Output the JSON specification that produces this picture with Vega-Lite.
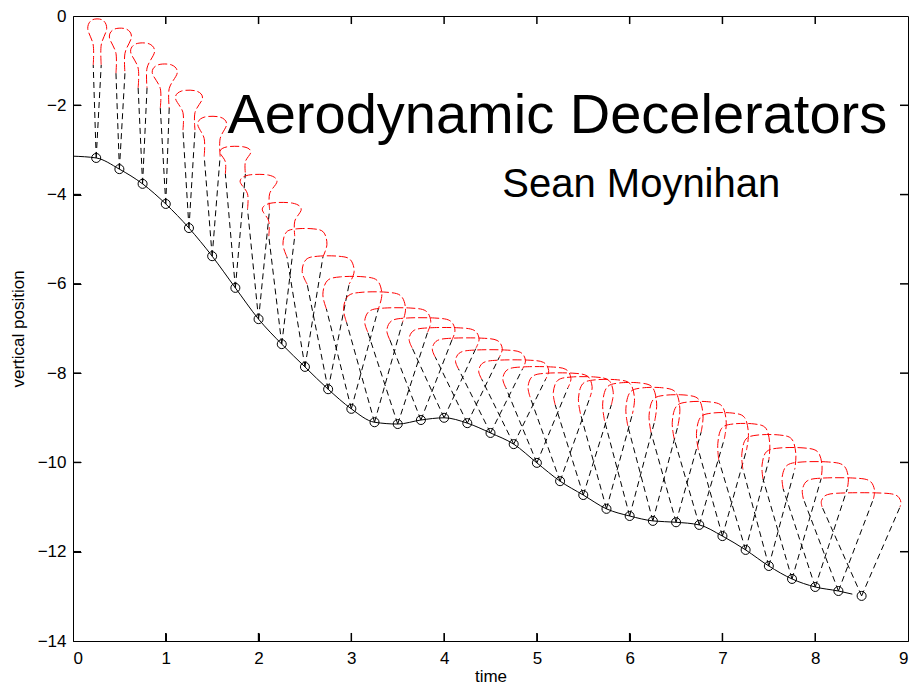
{
  "$schema": "https://vega.github.io/schema/vega-lite/v6.json",
  "width": 835,
  "height": 625,
  "autosize": {"type": "none"},
  "padding": {"left": 73, "top": 16, "right": 12, "bottom": 49},
  "background": "white",
  "config": {
    "view": {"stroke": "black", "strokeWidth": 1},
    "axis": {
      "grid": false, "domain": false, "ticks": true, "tickColor": "black", "tickOpacity": 1, "tickWidth": 1, "tickSize": 8, "offset": -8, "zindex": 1,
      "labelColor": "black", "labelFont": "Liberation Sans", "labelFontSize": 17,
      "titleFont": "Liberation Sans", "titleFontSize": 17, "titleFontWeight": "normal", "titleColor": "black"
    }
  },
  "datasets": {
    "ticks": [
      {"x":1,"y":-14,"x2":1,"y2":-13.82},{"x":2,"y":-14,"x2":2,"y2":-13.82},{"x":3,"y":-14,"x2":3,"y2":-13.82},{"x":4,"y":-14,"x2":4,"y2":-13.82},
      {"x":5,"y":-14,"x2":5,"y2":-13.82},{"x":6,"y":-14,"x2":6,"y2":-13.82},{"x":7,"y":-14,"x2":7,"y2":-13.82},{"x":8,"y":-14,"x2":8,"y2":-13.82},
      {"x":1,"y":0,"x2":1,"y2":-0.18},{"x":2,"y":0,"x2":2,"y2":-0.18},{"x":3,"y":0,"x2":3,"y2":-0.18},{"x":4,"y":0,"x2":4,"y2":-0.18},
      {"x":5,"y":0,"x2":5,"y2":-0.18},{"x":6,"y":0,"x2":6,"y2":-0.18},{"x":7,"y":0,"x2":7,"y2":-0.18},{"x":8,"y":0,"x2":8,"y2":-0.18},
      {"x":0,"y":-12,"x2":0.086,"y2":-12},{"x":0,"y":-10,"x2":0.086,"y2":-10},{"x":0,"y":-8,"x2":0.086,"y2":-8},
      {"x":0,"y":-6,"x2":0.086,"y2":-6},{"x":0,"y":-4,"x2":0.086,"y2":-4},{"x":0,"y":-2,"x2":0.086,"y2":-2},
      {"x":9,"y":-12,"x2":8.914,"y2":-12},{"x":9,"y":-10,"x2":8.914,"y2":-10},{"x":9,"y":-8,"x2":8.914,"y2":-8},
      {"x":9,"y":-6,"x2":8.914,"y2":-6},{"x":9,"y":-4,"x2":8.914,"y2":-4},{"x":9,"y":-2,"x2":8.914,"y2":-2}
    ],
    "traj": [
      {"t":0,"y":-3.14},{"t":0.25,"y":-3.18},{"t":0.5,"y":-3.43},{"t":0.75,"y":-3.76},{"t":1,"y":-4.21},
      {"t":1.25,"y":-4.75},{"t":1.5,"y":-5.38},{"t":1.75,"y":-6.09},{"t":2,"y":-6.79},{"t":2.25,"y":-7.35},
      {"t":2.5,"y":-7.86},{"t":2.75,"y":-8.36},{"t":3,"y":-8.8},{"t":3.25,"y":-9.1},{"t":3.5,"y":-9.14},
      {"t":3.75,"y":-9.05},{"t":4,"y":-9.0},{"t":4.25,"y":-9.12},{"t":4.5,"y":-9.34},{"t":4.75,"y":-9.59},
      {"t":5,"y":-10.01},{"t":5.25,"y":-10.42},{"t":5.5,"y":-10.73},{"t":5.75,"y":-11.04},{"t":6,"y":-11.2},
      {"t":6.25,"y":-11.31},{"t":6.5,"y":-11.34},{"t":6.75,"y":-11.4},{"t":7,"y":-11.65},{"t":7.25,"y":-11.96},
      {"t":7.5,"y":-12.32},{"t":7.75,"y":-12.61},{"t":8,"y":-12.79},{"t":8.25,"y":-12.88},{"t":8.4,"y":-12.95}
    ],
    "pts": [
      {"t":0.25,"y":-3.18},{"t":0.5,"y":-3.43},{"t":0.75,"y":-3.76},{"t":1,"y":-4.21},
      {"t":1.25,"y":-4.75},{"t":1.5,"y":-5.38},{"t":1.75,"y":-6.09},{"t":2,"y":-6.79},{"t":2.25,"y":-7.35},
      {"t":2.5,"y":-7.86},{"t":2.75,"y":-8.36},{"t":3,"y":-8.8},{"t":3.25,"y":-9.1},{"t":3.5,"y":-9.14},
      {"t":3.75,"y":-9.05},{"t":4,"y":-9.0},{"t":4.25,"y":-9.12},{"t":4.5,"y":-9.34},{"t":4.75,"y":-9.59},
      {"t":5,"y":-10.01},{"t":5.25,"y":-10.42},{"t":5.5,"y":-10.73},{"t":5.75,"y":-11.04},{"t":6,"y":-11.2},
      {"t":6.25,"y":-11.31},{"t":6.5,"y":-11.34},{"t":6.75,"y":-11.4},{"t":7,"y":-11.65},{"t":7.25,"y":-11.96},
      {"t":7.5,"y":-12.32},{"t":7.75,"y":-12.61},{"t":8,"y":-12.79},{"t":8.25,"y":-12.88},{"t":8.5,"y":-12.99}
    ],
    "risers": [
      {"x":0.25,"y":-3.18,"x2":0.218,"y2":-1.097},{"x":0.25,"y":-3.18,"x2":0.304,"y2":-1.097},
      {"x":0.5,"y":-3.43,"x2":0.463,"y2":-1.28},{"x":0.5,"y":-3.43,"x2":0.56,"y2":-1.28},
      {"x":0.75,"y":-3.76,"x2":0.702,"y2":-1.61},{"x":0.75,"y":-3.76,"x2":0.798,"y2":-1.61},
      {"x":1.0,"y":-4.21,"x2":0.941,"y2":-2.06},{"x":1.0,"y":-4.21,"x2":1.037,"y2":-2.06},
      {"x":1.25,"y":-4.75,"x2":1.185,"y2":-2.555},{"x":1.25,"y":-4.75,"x2":1.315,"y2":-2.555},
      {"x":1.5,"y":-5.38,"x2":1.414,"y2":-3.14},{"x":1.5,"y":-5.38,"x2":1.586,"y2":-3.14},
      {"x":1.75,"y":-6.09,"x2":1.642,"y2":-3.536},{"x":1.75,"y":-6.09,"x2":1.858,"y2":-3.536},
      {"x":2.0,"y":-6.79,"x2":1.881,"y2":-4.326},{"x":2.0,"y":-6.79,"x2":2.119,"y2":-4.326},
      {"x":2.25,"y":-7.35,"x2":2.11,"y2":-4.931},{"x":2.25,"y":-7.35,"x2":2.39,"y2":-4.931},
      {"x":2.5,"y":-7.86,"x2":2.306,"y2":-5.396},{"x":2.5,"y":-7.86,"x2":2.694,"y2":-5.396},
      {"x":2.75,"y":-8.36,"x2":2.524,"y2":-6.008},{"x":2.75,"y":-8.36,"x2":2.976,"y2":-6.008},
      {"x":3.0,"y":-8.8,"x2":2.731,"y2":-6.56},{"x":3.0,"y":-8.8,"x2":3.291,"y2":-6.56},
      {"x":3.25,"y":-9.1,"x2":2.948,"y2":-6.86},{"x":3.25,"y":-9.1,"x2":3.552,"y2":-6.86},
      {"x":3.5,"y":-9.14,"x2":3.177,"y2":-7.079},{"x":3.5,"y":-9.14,"x2":3.823,"y2":-7.079},
      {"x":3.75,"y":-9.05,"x2":3.416,"y2":-7.258},{"x":3.75,"y":-9.05,"x2":4.084,"y2":-7.258},
      {"x":4.0,"y":-9.0,"x2":3.655,"y2":-7.432},{"x":4.0,"y":-9.0,"x2":4.345,"y2":-7.432},
      {"x":4.25,"y":-9.12,"x2":3.905,"y2":-7.642},{"x":4.25,"y":-9.12,"x2":4.595,"y2":-7.642},
      {"x":4.5,"y":-9.34,"x2":4.155,"y2":-7.906},{"x":4.5,"y":-9.34,"x2":4.845,"y2":-7.906},
      {"x":4.75,"y":-9.59,"x2":4.405,"y2":-8.134},{"x":4.75,"y":-9.59,"x2":5.095,"y2":-8.134},
      {"x":5.0,"y":-10.01,"x2":4.666,"y2":-8.33},{"x":5.0,"y":-10.01,"x2":5.334,"y2":-8.33},
      {"x":5.25,"y":-10.42,"x2":4.927,"y2":-8.538},{"x":5.25,"y":-10.42,"x2":5.573,"y2":-8.538},
      {"x":5.5,"y":-10.73,"x2":5.198,"y2":-8.714},{"x":5.5,"y":-10.73,"x2":5.802,"y2":-8.714},
      {"x":5.75,"y":-11.04,"x2":5.47,"y2":-8.912},{"x":5.75,"y":-11.04,"x2":6.03,"y2":-8.912},
      {"x":6.0,"y":-11.2,"x2":5.73,"y2":-9.072},{"x":6.0,"y":-11.2,"x2":6.27,"y2":-9.072},
      {"x":6.25,"y":-11.31,"x2":5.98,"y2":-9.182},{"x":6.25,"y":-11.31,"x2":6.52,"y2":-9.182},
      {"x":6.5,"y":-11.34,"x2":6.23,"y2":-9.324},{"x":6.5,"y":-11.34,"x2":6.77,"y2":-9.324},
      {"x":6.75,"y":-11.4,"x2":6.48,"y2":-9.474},{"x":6.75,"y":-11.4,"x2":7.02,"y2":-9.474},
      {"x":7.0,"y":-11.65,"x2":6.741,"y2":-9.724},{"x":7.0,"y":-11.65,"x2":7.259,"y2":-9.724},
      {"x":7.25,"y":-11.96,"x2":6.96,"y2":-9.944},{"x":7.25,"y":-11.96,"x2":7.5,"y2":-9.944},
      {"x":7.5,"y":-12.32,"x2":7.22,"y2":-10.147},{"x":7.5,"y":-12.32,"x2":7.78,"y2":-10.147},
      {"x":7.75,"y":-12.61,"x2":7.437,"y2":-10.37},{"x":7.75,"y":-12.61,"x2":8.063,"y2":-10.37},
      {"x":8.0,"y":-12.79,"x2":7.655,"y2":-10.595},{"x":8.0,"y":-12.79,"x2":8.345,"y2":-10.595},
      {"x":8.25,"y":-12.88,"x2":7.873,"y2":-10.819},{"x":8.25,"y":-12.88,"x2":8.627,"y2":-10.819},
      {"x":8.5,"y":-12.99,"x2":8.074,"y2":-10.996},{"x":8.5,"y":-12.99,"x2":8.914,"y2":-10.996}
    ],
    "canopy": [
      {"p":1,"k":1,"x":0.218,"y":-1.097},{"p":1,"k":2,"x":0.218,"y":-0.651},{"p":1,"k":3,"x":0.159,"y":-0.284},{"p":1,"k":4,"x":0.205,"y":-0.089},{"p":1,"k":5,"x":0.317,"y":-0.089},{"p":1,"k":6,"x":0.363,"y":-0.284},{"p":1,"k":7,"x":0.304,"y":-0.651},{"p":1,"k":8,"x":0.304,"y":-1.097},
      {"p":2,"k":1,"x":0.463,"y":-1.28},{"p":2,"k":2,"x":0.463,"y":-0.836},{"p":2,"k":3,"x":0.392,"y":-0.471},{"p":2,"k":4,"x":0.446,"y":-0.294},{"p":2,"k":5,"x":0.576,"y":-0.294},{"p":2,"k":6,"x":0.63,"y":-0.471},{"p":2,"k":7,"x":0.56,"y":-0.836},{"p":2,"k":8,"x":0.56,"y":-1.28},
      {"p":3,"k":1,"x":0.702,"y":-1.61},{"p":3,"k":2,"x":0.702,"y":-1.166},{"p":3,"k":3,"x":0.621,"y":-0.801},{"p":3,"k":4,"x":0.679,"y":-0.624},{"p":3,"k":5,"x":0.821,"y":-0.624},{"p":3,"k":6,"x":0.879,"y":-0.801},{"p":3,"k":7,"x":0.798,"y":-1.166},{"p":3,"k":8,"x":0.798,"y":-1.61},
      {"p":4,"k":1,"x":0.941,"y":-2.06},{"p":4,"k":2,"x":0.941,"y":-1.626},{"p":4,"k":3,"x":0.854,"y":-1.27},{"p":4,"k":4,"x":0.915,"y":-1.096},{"p":4,"k":5,"x":1.063,"y":-1.096},{"p":4,"k":6,"x":1.124,"y":-1.27},{"p":4,"k":7,"x":1.037,"y":-1.626},{"p":4,"k":8,"x":1.037,"y":-2.06},
      {"p":5,"k":1,"x":1.185,"y":-2.555},{"p":5,"k":2,"x":1.185,"y":-2.162},{"p":5,"k":3,"x":1.104,"y":-1.838},{"p":5,"k":4,"x":1.17,"y":-1.681},{"p":5,"k":5,"x":1.33,"y":-1.681},{"p":5,"k":6,"x":1.396,"y":-1.838},{"p":5,"k":7,"x":1.315,"y":-2.162},{"p":5,"k":8,"x":1.315,"y":-2.555},
      {"p":6,"k":1,"x":1.414,"y":-3.14},{"p":6,"k":2,"x":1.414,"y":-2.747},{"p":6,"k":3,"x":1.344,"y":-2.423},{"p":6,"k":4,"x":1.414,"y":-2.266},{"p":6,"k":5,"x":1.586,"y":-2.266},{"p":6,"k":6,"x":1.656,"y":-2.423},{"p":6,"k":7,"x":1.586,"y":-2.747},{"p":6,"k":8,"x":1.586,"y":-3.14},
      {"p":7,"k":1,"x":1.642,"y":-3.536},{"p":7,"k":2,"x":1.642,"y":-3.264},{"p":7,"k":3,"x":1.583,"y":-3.041},{"p":7,"k":4,"x":1.658,"y":-2.932},{"p":7,"k":5,"x":1.842,"y":-2.932},{"p":7,"k":6,"x":1.917,"y":-3.041},{"p":7,"k":7,"x":1.858,"y":-3.264},{"p":7,"k":8,"x":1.858,"y":-3.536},
      {"p":8,"k":1,"x":1.881,"y":-4.326},{"p":8,"k":2,"x":1.881,"y":-3.983},{"p":8,"k":3,"x":1.801,"y":-3.701},{"p":8,"k":4,"x":1.891,"y":-3.564},{"p":8,"k":5,"x":2.109,"y":-3.564},{"p":8,"k":6,"x":2.199,"y":-3.701},{"p":8,"k":7,"x":2.119,"y":-3.983},{"p":8,"k":8,"x":2.119,"y":-4.326},
      {"p":9,"k":1,"x":2.11,"y":-4.931},{"p":9,"k":2,"x":2.11,"y":-4.598},{"p":9,"k":3,"x":2.04,"y":-4.325},{"p":9,"k":4,"x":2.134,"y":-4.192},{"p":9,"k":5,"x":2.366,"y":-4.192},{"p":9,"k":6,"x":2.46,"y":-4.325},{"p":9,"k":7,"x":2.39,"y":-4.598},{"p":9,"k":8,"x":2.39,"y":-4.931},
      {"p":10,"k":1,"x":2.306,"y":-5.396},{"p":10,"k":2,"x":2.263,"y":-5.114},{"p":10,"k":3,"x":2.299,"y":-4.844},{"p":10,"k":4,"x":2.405,"y":-4.769},{"p":10,"k":5,"x":2.595,"y":-4.769},{"p":10,"k":6,"x":2.701,"y":-4.844},{"p":10,"k":7,"x":2.737,"y":-5.114},{"p":10,"k":8,"x":2.694,"y":-5.396},
      {"p":11,"k":1,"x":2.524,"y":-6.008},{"p":11,"k":2,"x":2.47,"y":-5.726},{"p":11,"k":3,"x":2.512,"y":-5.456},{"p":11,"k":4,"x":2.638,"y":-5.381},{"p":11,"k":5,"x":2.862,"y":-5.381},{"p":11,"k":6,"x":2.988,"y":-5.456},{"p":11,"k":7,"x":3.03,"y":-5.726},{"p":11,"k":8,"x":2.976,"y":-6.008},
      {"p":12,"k":1,"x":2.731,"y":-6.56},{"p":12,"k":2,"x":2.693,"y":-6.237},{"p":12,"k":3,"x":2.741,"y":-5.929},{"p":12,"k":4,"x":2.884,"y":-5.843},{"p":12,"k":5,"x":3.138,"y":-5.843},{"p":12,"k":6,"x":3.281,"y":-5.929},{"p":12,"k":7,"x":3.329,"y":-6.237},{"p":12,"k":8,"x":3.291,"y":-6.56},
      {"p":13,"k":1,"x":2.948,"y":-6.86},{"p":13,"k":2,"x":2.916,"y":-6.558},{"p":13,"k":3,"x":2.966,"y":-6.269},{"p":13,"k":4,"x":3.116,"y":-6.188},{"p":13,"k":5,"x":3.384,"y":-6.188},{"p":13,"k":6,"x":3.534,"y":-6.269},{"p":13,"k":7,"x":3.584,"y":-6.558},{"p":13,"k":8,"x":3.552,"y":-6.86},
      {"p":14,"k":1,"x":3.177,"y":-7.079},{"p":14,"k":2,"x":3.144,"y":-6.837},{"p":14,"k":3,"x":3.198,"y":-6.606},{"p":14,"k":4,"x":3.358,"y":-6.542},{"p":14,"k":5,"x":3.642,"y":-6.542},{"p":14,"k":6,"x":3.802,"y":-6.606},{"p":14,"k":7,"x":3.856,"y":-6.837},{"p":14,"k":8,"x":3.823,"y":-7.079},
      {"p":15,"k":1,"x":3.416,"y":-7.258},{"p":15,"k":2,"x":3.383,"y":-7.036},{"p":15,"k":3,"x":3.438,"y":-6.824},{"p":15,"k":4,"x":3.603,"y":-6.765},{"p":15,"k":5,"x":3.897,"y":-6.765},{"p":15,"k":6,"x":4.062,"y":-6.824},{"p":15,"k":7,"x":4.117,"y":-7.036},{"p":15,"k":8,"x":4.084,"y":-7.258},
      {"p":16,"k":1,"x":3.655,"y":-7.432},{"p":16,"k":2,"x":3.623,"y":-7.23},{"p":16,"k":3,"x":3.679,"y":-7.038},{"p":16,"k":4,"x":3.849,"y":-6.984},{"p":16,"k":5,"x":4.151,"y":-6.984},{"p":16,"k":6,"x":4.321,"y":-7.038},{"p":16,"k":7,"x":4.377,"y":-7.23},{"p":16,"k":8,"x":4.345,"y":-7.432},
      {"p":17,"k":1,"x":3.905,"y":-7.642},{"p":17,"k":2,"x":3.873,"y":-7.45},{"p":17,"k":3,"x":3.929,"y":-7.267},{"p":17,"k":4,"x":4.099,"y":-7.216},{"p":17,"k":5,"x":4.401,"y":-7.216},{"p":17,"k":6,"x":4.571,"y":-7.267},{"p":17,"k":7,"x":4.627,"y":-7.45},{"p":17,"k":8,"x":4.595,"y":-7.642},
      {"p":18,"k":1,"x":4.155,"y":-7.906},{"p":18,"k":2,"x":4.123,"y":-7.715},{"p":18,"k":3,"x":4.179,"y":-7.532},{"p":18,"k":4,"x":4.349,"y":-7.481},{"p":18,"k":5,"x":4.651,"y":-7.481},{"p":18,"k":6,"x":4.821,"y":-7.532},{"p":18,"k":7,"x":4.877,"y":-7.715},{"p":18,"k":8,"x":4.845,"y":-7.906},
      {"p":19,"k":1,"x":4.405,"y":-8.134},{"p":19,"k":2,"x":4.373,"y":-7.942},{"p":19,"k":3,"x":4.429,"y":-7.759},{"p":19,"k":4,"x":4.599,"y":-7.708},{"p":19,"k":5,"x":4.901,"y":-7.708},{"p":19,"k":6,"x":5.071,"y":-7.759},{"p":19,"k":7,"x":5.127,"y":-7.942},{"p":19,"k":8,"x":5.095,"y":-8.134},
      {"p":20,"k":1,"x":4.666,"y":-8.33},{"p":20,"k":2,"x":4.633,"y":-8.118},{"p":20,"k":3,"x":4.688,"y":-7.916},{"p":20,"k":4,"x":4.853,"y":-7.86},{"p":20,"k":5,"x":5.147,"y":-7.86},{"p":20,"k":6,"x":5.312,"y":-7.916},{"p":20,"k":7,"x":5.367,"y":-8.118},{"p":20,"k":8,"x":5.334,"y":-8.33},
      {"p":21,"k":1,"x":4.927,"y":-8.538},{"p":21,"k":2,"x":4.905,"y":-8.296},{"p":21,"k":3,"x":4.957,"y":-8.065},{"p":21,"k":4,"x":5.112,"y":-8.001},{"p":21,"k":5,"x":5.388,"y":-8.001},{"p":21,"k":6,"x":5.543,"y":-8.065},{"p":21,"k":7,"x":5.595,"y":-8.296},{"p":21,"k":8,"x":5.573,"y":-8.538},
      {"p":22,"k":1,"x":5.198,"y":-8.714},{"p":22,"k":2,"x":5.177,"y":-8.432},{"p":22,"k":3,"x":5.225,"y":-8.162},{"p":22,"k":4,"x":5.371,"y":-8.087},{"p":22,"k":5,"x":5.629,"y":-8.087},{"p":22,"k":6,"x":5.775,"y":-8.162},{"p":22,"k":7,"x":5.823,"y":-8.432},{"p":22,"k":8,"x":5.802,"y":-8.714},
      {"p":23,"k":1,"x":5.47,"y":-8.912},{"p":23,"k":2,"x":5.448,"y":-8.569},{"p":23,"k":3,"x":5.493,"y":-8.241},{"p":23,"k":4,"x":5.629,"y":-8.15},{"p":23,"k":5,"x":5.871,"y":-8.15},{"p":23,"k":6,"x":6.007,"y":-8.241},{"p":23,"k":7,"x":6.052,"y":-8.569},{"p":23,"k":8,"x":6.03,"y":-8.912},
      {"p":24,"k":1,"x":5.73,"y":-9.072},{"p":24,"k":2,"x":5.709,"y":-8.689},{"p":24,"k":3,"x":5.753,"y":-8.323},{"p":24,"k":4,"x":5.884,"y":-8.221},{"p":24,"k":5,"x":6.116,"y":-8.221},{"p":24,"k":6,"x":6.247,"y":-8.323},{"p":24,"k":7,"x":6.291,"y":-8.689},{"p":24,"k":8,"x":6.27,"y":-9.072},
      {"p":25,"k":1,"x":5.98,"y":-9.182},{"p":25,"k":2,"x":5.959,"y":-8.799},{"p":25,"k":3,"x":6.003,"y":-8.433},{"p":25,"k":4,"x":6.134,"y":-8.331},{"p":25,"k":5,"x":6.366,"y":-8.331},{"p":25,"k":6,"x":6.497,"y":-8.433},{"p":25,"k":7,"x":6.541,"y":-8.799},{"p":25,"k":8,"x":6.52,"y":-9.182},
      {"p":26,"k":1,"x":6.23,"y":-9.324},{"p":26,"k":2,"x":6.209,"y":-8.951},{"p":26,"k":3,"x":6.253,"y":-8.594},{"p":26,"k":4,"x":6.384,"y":-8.495},{"p":26,"k":5,"x":6.616,"y":-8.495},{"p":26,"k":6,"x":6.747,"y":-8.594},{"p":26,"k":7,"x":6.791,"y":-8.951},{"p":26,"k":8,"x":6.77,"y":-9.324},
      {"p":27,"k":1,"x":6.48,"y":-9.474},{"p":27,"k":2,"x":6.459,"y":-9.101},{"p":27,"k":3,"x":6.503,"y":-8.744},{"p":27,"k":4,"x":6.634,"y":-8.645},{"p":27,"k":5,"x":6.866,"y":-8.645},{"p":27,"k":6,"x":6.997,"y":-8.744},{"p":27,"k":7,"x":7.041,"y":-9.101},{"p":27,"k":8,"x":7.02,"y":-9.474},
      {"p":28,"k":1,"x":6.741,"y":-9.724},{"p":28,"k":2,"x":6.72,"y":-9.351},{"p":28,"k":3,"x":6.762,"y":-8.994},{"p":28,"k":4,"x":6.888,"y":-8.895},{"p":28,"k":5,"x":7.112,"y":-8.895},{"p":28,"k":6,"x":7.238,"y":-8.994},{"p":28,"k":7,"x":7.28,"y":-9.351},{"p":28,"k":8,"x":7.259,"y":-9.724},
      {"p":29,"k":1,"x":6.96,"y":-9.944},{"p":29,"k":2,"x":6.95,"y":-9.581},{"p":29,"k":3,"x":6.992,"y":-9.235},{"p":29,"k":4,"x":7.118,"y":-9.138},{"p":29,"k":5,"x":7.342,"y":-9.138},{"p":29,"k":6,"x":7.468,"y":-9.235},{"p":29,"k":7,"x":7.51,"y":-9.581},{"p":29,"k":8,"x":7.5,"y":-9.944},
      {"p":30,"k":1,"x":7.22,"y":-10.147},{"p":30,"k":2,"x":7.209,"y":-9.805},{"p":30,"k":3,"x":7.253,"y":-9.477},{"p":30,"k":4,"x":7.384,"y":-9.386},{"p":30,"k":5,"x":7.616,"y":-9.386},{"p":30,"k":6,"x":7.747,"y":-9.477},{"p":30,"k":7,"x":7.791,"y":-9.805},{"p":30,"k":8,"x":7.78,"y":-10.147},
      {"p":31,"k":1,"x":7.437,"y":-10.37},{"p":31,"k":2,"x":7.427,"y":-10.058},{"p":31,"k":3,"x":7.475,"y":-9.759},{"p":31,"k":4,"x":7.621,"y":-9.676},{"p":31,"k":5,"x":7.879,"y":-9.676},{"p":31,"k":6,"x":8.025,"y":-9.759},{"p":31,"k":7,"x":8.073,"y":-10.058},{"p":31,"k":8,"x":8.063,"y":-10.37},
      {"p":32,"k":1,"x":7.655,"y":-10.595},{"p":32,"k":2,"x":7.644,"y":-10.323},{"p":32,"k":3,"x":7.698,"y":-10.063},{"p":32,"k":4,"x":7.858,"y":-9.99},{"p":32,"k":5,"x":8.142,"y":-9.99},{"p":32,"k":6,"x":8.302,"y":-10.063},{"p":32,"k":7,"x":8.356,"y":-10.323},{"p":32,"k":8,"x":8.345,"y":-10.595},
      {"p":33,"k":1,"x":7.873,"y":-10.819},{"p":33,"k":2,"x":7.862,"y":-10.607},{"p":33,"k":3,"x":7.92,"y":-10.405},{"p":33,"k":4,"x":8.095,"y":-10.349},{"p":33,"k":5,"x":8.405,"y":-10.349},{"p":33,"k":6,"x":8.58,"y":-10.405},{"p":33,"k":7,"x":8.638,"y":-10.607},{"p":33,"k":8,"x":8.627,"y":-10.819},
      {"p":34,"k":1,"x":8.074,"y":-10.996},{"p":34,"k":2,"x":8.068,"y":-10.855},{"p":34,"k":3,"x":8.132,"y":-10.721},{"p":34,"k":4,"x":8.324,"y":-10.683},{"p":34,"k":5,"x":8.664,"y":-10.683},{"p":34,"k":6,"x":8.856,"y":-10.721},{"p":34,"k":7,"x":8.92,"y":-10.855},{"p":34,"k":8,"x":8.914,"y":-10.996}
    ]
  },
  "layer": [
    {
      "data": {"name": "traj"},
      "mark": {"type": "line", "color": "black", "strokeWidth": 1, "interpolate": "monotone"},
      "encoding": {
        "x": {"field": "t", "type": "quantitative", "scale": {"domain": [0, 9], "nice": false, "zero": false},
              "axis": {"orient": "bottom", "values": [0,1,2,3,4,5,6,7,8,9], "format": "d", "title": "time", "labelPadding": 9, "titlePadding": 2}},
        "y": {"field": "y", "type": "quantitative", "scale": {"domain": [-14, 0], "nice": false, "zero": false},
              "axis": {"orient": "left", "values": [-14,-12,-10,-8,-6,-4,-2,0], "format": "d", "title": "vertical position", "labelPadding": 7, "titlePadding": 10}}
      }
    },
    {
      "data": {"name": "pts"},
      "mark": {"type": "point", "shape": "circle", "filled": false, "color": "black", "size": 81, "strokeWidth": 1, "opacity": 1},
      "encoding": {
        "x": {"field": "t", "type": "quantitative"},
        "y": {"field": "y", "type": "quantitative"}
      }
    },
    {
      "data": {"name": "risers"},
      "mark": {"type": "rule", "color": "black", "strokeWidth": 1, "strokeDash": [6, 4]},
      "encoding": {
        "x": {"field": "x", "type": "quantitative"},
        "y": {"field": "y", "type": "quantitative"},
        "x2": {"field": "x2"},
        "y2": {"field": "y2"}
      }
    },
    {
      "data": {"name": "canopy"},
      "mark": {"type": "line", "color": "#ff0000", "strokeWidth": 1, "strokeDash": [9, 3], "interpolate": "cardinal"},
      "encoding": {
        "x": {"field": "x", "type": "quantitative"},
        "y": {"field": "y", "type": "quantitative"},
        "detail": {"field": "p", "type": "nominal"},
        "order": {"field": "k", "type": "quantitative"}
      }
    },
    {
      "data": {"values": [{"label": "Aerodynamic Decelerators", "x": 5.22, "y": -2.62}]},
      "mark": {"type": "text", "font": "Liberation Sans", "fontSize": 56, "align": "center", "baseline": "alphabetic", "color": "black"},
      "encoding": {
        "x": {"field": "x", "type": "quantitative"},
        "y": {"field": "y", "type": "quantitative"},
        "text": {"field": "label"}
      }
    },
    {
      "data": {"values": [{"label": "Sean Moynihan", "x": 6.125, "y": -4.05}]},
      "mark": {"type": "text", "font": "Liberation Sans", "fontSize": 40, "align": "center", "baseline": "alphabetic", "color": "black"},
      "encoding": {
        "x": {"field": "x", "type": "quantitative"},
        "y": {"field": "y", "type": "quantitative"},
        "text": {"field": "label"}
      }
    },
    {
      "data": {"name": "ticks"},
      "mark": {"type": "rule", "color": "black", "strokeWidth": 1.5},
      "encoding": {
        "x": {"field": "x", "type": "quantitative"},
        "y": {"field": "y", "type": "quantitative"},
        "x2": {"field": "x2"},
        "y2": {"field": "y2"}
      }
    }
  ]
}
